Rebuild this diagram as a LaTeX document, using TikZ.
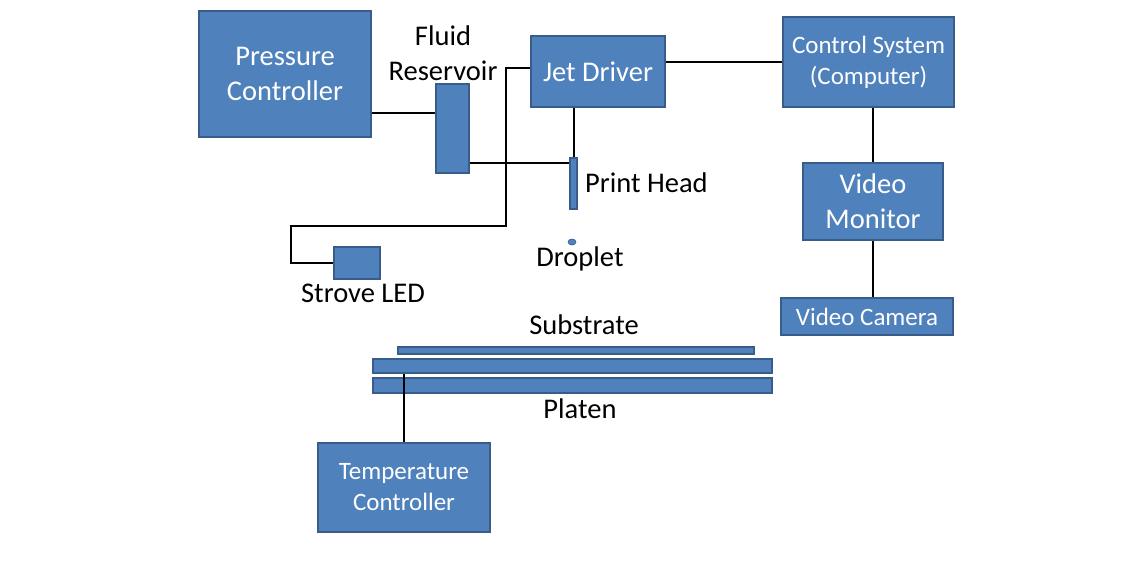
\documentclass[tikz,border=0pt]{standalone}
\usepackage{fontspec}
\setmainfont{Carlito}
\usepackage{tikz}
\usetikzlibrary{positioning,calc,shapes.geometric}
\definecolor{boxfill}{RGB}{79,129,189}
\definecolor{boxedge}{RGB}{56,93,138}

\tikzset{
  box/.style={draw=boxedge, fill=boxfill, line width=1.4pt, text=white, align=center, inner sep=0pt},
  bigtext/.style={font=\fontsize{28.5}{35}\selectfont},
  smalltext/.style={font=\fontsize{25}{31}\selectfont},
  tag/.style={bigtext, text=black, align=center, inner sep=0pt},
  wire/.style={line width=2pt, black},
}

\begin{document}
\begin{tikzpicture}[x=1pt, y=-1pt]
  \useasboundingbox (0,0) rectangle (1143,583);

  % Boxes
  \node[box, bigtext, minimum width=172pt, minimum height=126pt] (press) at (285,74) {Pressure\\Controller};
  \node[box, minimum width=33pt, minimum height=89pt] (res) at (452.5,128.5) {};
  \node[box, bigtext, minimum width=134pt, minimum height=71pt] (jet) at (598,71.5) {Jet Driver};
  \node[box, minimum width=7pt, minimum height=51pt] (head) at (573.5,183.5) {};
  \node[box, smalltext, minimum width=171pt, minimum height=90pt] (ctrl) at (868.5,62) {Control System\\(Computer)};
  \node[box, bigtext, minimum width=140pt, minimum height=77pt] (mon) at (873,201.5) {Video\\Monitor};
  \node[box, smalltext, minimum width=172pt, minimum height=37pt] (cam) at (867,316.5) {Video Camera};
  \node[box, minimum width=46pt, minimum height=32pt] (led) at (357,263) {};
  \node[box, ellipse, minimum width=8pt, minimum height=6pt, line width=0.6pt] (drop) at (572,242) {};
  \node[box, minimum width=356pt, minimum height=7pt] (sub) at (576,350.5) {};
  \node[box, minimum width=399pt, minimum height=14pt] (platA) at (572.5,366) {};
  \node[box, minimum width=399pt, minimum height=15pt] (platB) at (572.5,385.5) {};
  \node[box, smalltext, minimum width=172pt, minimum height=89pt] (temp) at (404,487.5) {Temperature\\Controller};

  % Labels
  \node[tag] (resname) at (443,53) {Fluid\\Reservoir};
  \node[tag, anchor=west] (headname) at (585,183) {Print Head};
  \node[tag] (dropname) at (580,259) {Droplet};
  \node[tag] (ledname) at (363,293) {Strove LED};
  \node[tag] (subname) at (584,325) {Substrate};
  \node[tag] (platname) at (580,409) {Platen};

  % Wires
  \coordinate (bendA) at (506,226);
  \coordinate (bendB) at (291,226);
  \draw[wire] ([yshift=-39pt]press.east) coordinate (pa) -- (pa -| res.west);
  \draw[wire] ([yshift=-34.5pt]res.east) coordinate (ra) -- (ra -| head.west);
  \draw[wire] (head.north |- jet.south) -- (head.north);
  \draw[wire] (ctrl.west) -- (ctrl.west -| jet.east);
  \draw[wire] (mon.north |- ctrl.south) -- (mon.north);
  \draw[wire] (mon.south) -- (mon.south |- cam.north);
  \draw[wire] ([yshift=3.5pt]jet.west) -| (bendA) -- (bendB) |- (led.west);
  \draw[wire] (temp.north) -- (temp.north |- platA.south);
\end{tikzpicture}
\end{document}
